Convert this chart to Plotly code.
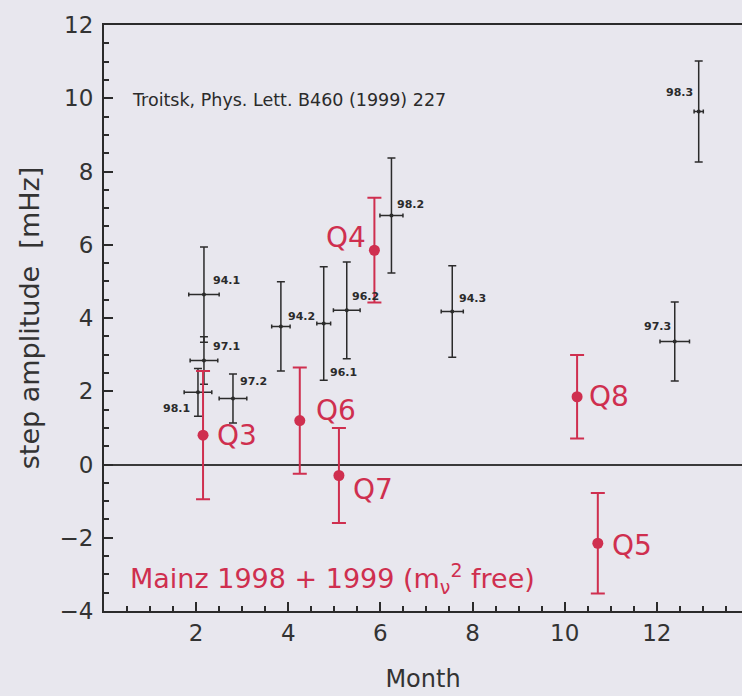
import plotly.graph_objects as go

# Troitsk data (black)
t_labels = ["94.1", "97.1", "98.1", "97.2", "94.2", "96.1", "96.2", "98.2", "94.3", "97.3", "98.3"]
t_month = [2.17, 2.17, 2.04, 2.80, 3.84, 4.77, 5.27, 6.24, 7.56, 12.39, 12.91]
t_amp = [4.64, 2.84, 1.97, 1.80, 3.77, 3.85, 4.21, 6.80, 4.18, 3.36, 9.64]
t_err = [1.30, 0.65, 0.65, 0.67, 1.22, 1.55, 1.32, 1.57, 1.25, 1.08, 1.38]
t_xerr = [0.33, 0.30, 0.30, 0.30, 0.20, 0.15, 0.29, 0.25, 0.24, 0.32, 0.10]

# Mainz data (red)
m_labels = ["Q3", "Q6", "Q7", "Q4", "Q8", "Q5"]
m_month = [2.15, 4.25, 5.10, 5.87, 10.27, 10.72]
m_amp = [0.80, 1.20, -0.30, 5.85, 1.85, -2.15]
m_err = [1.75, 1.45, 1.30, 1.43, 1.14, 1.37]

x_ticks = [2, 4, 6, 8, 10, 12]
y_ticks = [-4, -2, 0, 2, 4, 6, 8, 10, 12]

# label placement (anchor, pixel x offset, pixel y offset)
t_lab_style = {
    "94.1": ("left", 7, 14), "97.1": ("left", 7, 14), "98.1": ("right", -6, -16),
    "97.2": ("left", 5, 17), "94.2": ("left", 5, 10), "96.1": ("left", 4, -49),
    "96.2": ("left", 3, 14), "98.2": ("left", 4, 11), "94.3": ("left", 5, 13),
    "97.3": ("right", -2, 15), "98.3": ("right", -4, 19),
}
m_lab_style = {
    "Q3": ("left", 12, 0), "Q6": ("left", 14, 10), "Q7": ("left", 12, -14),
    "Q4": ("right", -6, 13), "Q8": ("left", 10, 0), "Q5": ("left", 12, -2),
}

BLACK = "#2b2b2b"
RED = "#cf2f4f"
BG = "#e8e7ee"
FONT = "DejaVu Sans"

fig = go.Figure()
fig.add_trace(go.Scatter(
    x=t_month, y=t_amp, mode="markers",
    marker=dict(color=BLACK, size=4),
    error_y=dict(type="data", array=t_err, color=BLACK, thickness=1.5, width=4),
    error_x=dict(type="data", array=t_xerr, color=BLACK, thickness=1.5, width=2),
    showlegend=False,
))
fig.add_trace(go.Scatter(
    x=m_month, y=m_amp, mode="markers",
    marker=dict(color=RED, size=11),
    error_y=dict(type="data", array=m_err, color=RED, thickness=2, width=7),
    showlegend=False,
))

for lab, x, y in zip(t_labels, t_month, t_amp):
    anc, dx, dy = t_lab_style[lab]
    fig.add_annotation(x=x, y=y, text="<b>" + lab + "</b>", showarrow=False, xanchor=anc, yanchor="middle",
                       xshift=dx, yshift=dy, font=dict(family=FONT, size=11, color=BLACK))
for lab, x, y in zip(m_labels, m_month, m_amp):
    anc, dx, dy = m_lab_style[lab]
    fig.add_annotation(x=x, y=y, text=lab, showarrow=False, xanchor=anc, yanchor="middle",
                       xshift=dx, yshift=dy, font=dict(family=FONT, size=28, color=RED))

fig.add_annotation(xref="paper", yref="paper", x=0.04, y=(611 - 100) / 586.0,
                   text="Troitsk, Phys. Lett. B460 (1999) 227", showarrow=False,
                   xanchor="left", yanchor="middle", font=dict(family=FONT, size=17.5, color=BLACK))
fig.add_annotation(xref="paper", yref="paper", x=0.037, y=(611 - 578) / 586.0,
                   text="Mainz 1998 + 1999 (m<sub>ν</sub><sup>2</sup> free)", showarrow=False,
                   xanchor="left", yanchor="middle", font=dict(family=FONT, size=27, color=RED))

fig.update_layout(
    width=742, height=696,
    margin=dict(l=104, r=0, t=25, b=85),
    paper_bgcolor=BG, plot_bgcolor=BG,
    font=dict(family=FONT, color=BLACK),
)
fig.update_xaxes(
    range=[0, 13.85], tickvals=x_ticks, ticks="inside", ticklen=9, tickwidth=1.5, tickcolor=BLACK,
    minor=dict(dtick=0.5, ticks="inside", ticklen=5, tickcolor=BLACK, tick0=0),
    showline=True, linecolor=BLACK, linewidth=2, mirror=True, showgrid=False, zeroline=False,
    tickfont=dict(family=FONT, size=23, color="#333333"),
    title=dict(text="Month", font=dict(family=FONT, size=24, color="#333333"), standoff=26),
)
fig.update_yaxes(
    range=[-4, 12], tickvals=y_ticks, ticks="inside", ticklen=9, tickwidth=1.5, tickcolor=BLACK,
    minor=dict(dtick=0.5, ticks="inside", ticklen=5, tickcolor=BLACK, tick0=0),
    showline=True, linecolor=BLACK, linewidth=2, mirror=False, showgrid=False,
    zeroline=True, zerolinecolor="#3a3a3a", zerolinewidth=2,
    tickfont=dict(family=FONT, size=23, color="#333333"), ticklabelstandoff=4,
    title=dict(text="step amplitude  [mHz]", font=dict(family=FONT, size=27, color="#333333"), standoff=12),
)

fig.write_html("out.html")
